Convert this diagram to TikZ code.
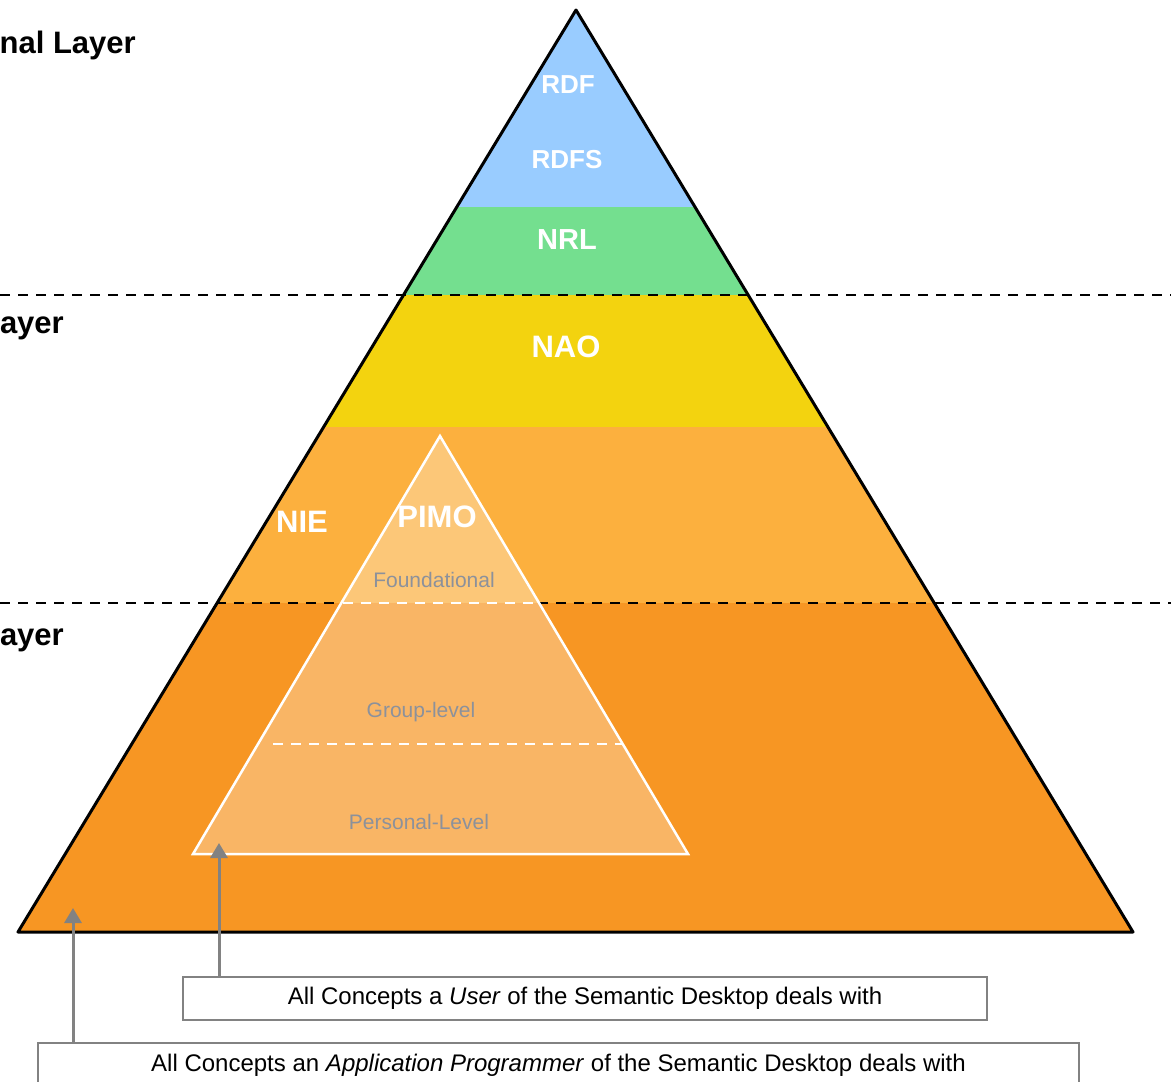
\documentclass[tikz,border=0pt]{standalone}
\usepackage{fontspec}
\setmainfont{Liberation Sans}
\usepackage{xcolor}
\usepackage{tikz}
\usetikzlibrary{arrows.meta, positioning}
\definecolor{rdfblue}{RGB}{153, 204, 255}
\definecolor{nrlgreen}{RGB}{116, 223, 143}
\definecolor{naoyellow}{RGB}{243, 211, 15}
\definecolor{nieorange}{RGB}{252, 176, 62}
\definecolor{baseorange}{RGB}{247, 150, 35}
\definecolor{notegray}{RGB}{130, 130, 130}
\definecolor{leveltext}{RGB}{140, 145, 155}

\begin{document}
\begin{tikzpicture}[x=1pt, y=-1pt,
        layername/.style={text=white, font=\fontsize{#1}{#1}\selectfont\bfseries},
        layerside/.style={font=\fontsize{31}{31}\selectfont\bfseries, anchor=base east, inner sep=0pt},
        pimolevel/.style={text=leveltext, font=\fontsize{21}{21}\selectfont},
        layersplit/.style={black, line width=2pt, dash pattern=on 10pt off 8pt},
        pimosplit/.style={white, line width=2.5pt, dash pattern=on 10pt off 8pt},
        conceptbox/.style={draw=notegray, line width=2.5pt, fill=white, inner sep=0pt,
            font=\fontsize{24}{24}\selectfont},
        conceptarrow/.style={draw=notegray, line width=3pt, -{Triangle[width=17pt, length=15pt]}}]
        \useasboundingbox (0,0) rectangle (1171,1082);
        \clip (0,0) rectangle (1171,1082);

        % Pyramid with its coloured bands
        \coordinate (apex) at (576,10);
        \coordinate (baseL) at (18,932);
        \coordinate (baseR) at (1133,932);
        \begin{scope}
            \clip (apex) -- (baseR) -- (baseL) -- cycle;
            \foreach \ytop/\ybot/\col in {10/207/rdfblue, 207/295/nrlgreen, 295/427/naoyellow,
                                          427/603/nieorange, 603/932/baseorange} {
                \fill[fill=\col] (0,\ytop) rectangle (1171,\ybot);
            }
        \end{scope}
        \draw[line width=3pt, line join=round] (apex) -- (baseR) -- (baseL) -- cycle;

        % Layer borders
        \draw[layersplit] (0,295) -- (1171,295);
        \draw[layersplit] (0,603) -- (342,603);
        \draw[layersplit] (538,603) -- (1171,603);

        % PIMO inside the pyramid
        \coordinate (pimoTop) at (440,436);
        \coordinate (pimoL) at (193,854);
        \coordinate (pimoR) at (688,854);
        \draw[white, line width=2.5pt, fill=white, fill opacity=0.3] (pimoTop) -- (pimoR) -- (pimoL) -- cycle;
        \draw[pimosplit] (343,603) -- (537,603);
        \draw[pimosplit] (273,744) -- (622,744);

        % Names in the bands
        \node[layername=26] (rdf) at (568,85) {RDF};
        \node[layername=26] (rdfs) at (567,160) {RDFS};
        \node[layername=29] (nrl) at (567,240) {NRL};
        \node[layername=31] (nao) at (566,347) {NAO};
        \node[layername=31] (nie) at (302,522) {NIE};
        \node[layername=31] (pimo) at (437,517) {PIMO};
        \node[pimolevel] (foundational) at (434,580) {Foundational};
        \node[pimolevel] (grouplevel) at (421,712) {Group-level};
        \node[pimolevel] (personallevel) at (419,822) {Personal-Level};

        % Layer names on the left
        \node[layerside] (reprlayer) at (136,53) {nal Layer};
        \node[layerside] (upperlayer) at (64,333) {ayer};
        \node[layerside] (lowerlayer) at (64,645) {ayer};

        % Boxes below
        \node[conceptbox, minimum width=804pt, minimum height=43pt] (boxUser) at (585,998.5)
            {All Concepts a \textit{User} of the Semantic Desktop deals with};
        \node[conceptbox, minimum width=1041pt, minimum height=44pt] (boxProg) at (558.5,1065)
            {All Concepts an \textit{Application Programmer} of the Semantic Desktop deals with};
        \coordinate (userTip) at (219,843);
        \coordinate (progTip) at (73,908);
        \draw[conceptarrow] (boxUser.north -| userTip) -- (userTip);
        \draw[conceptarrow] (boxProg.north -| progTip) -- (progTip);
    \end{tikzpicture}
\end{document}
